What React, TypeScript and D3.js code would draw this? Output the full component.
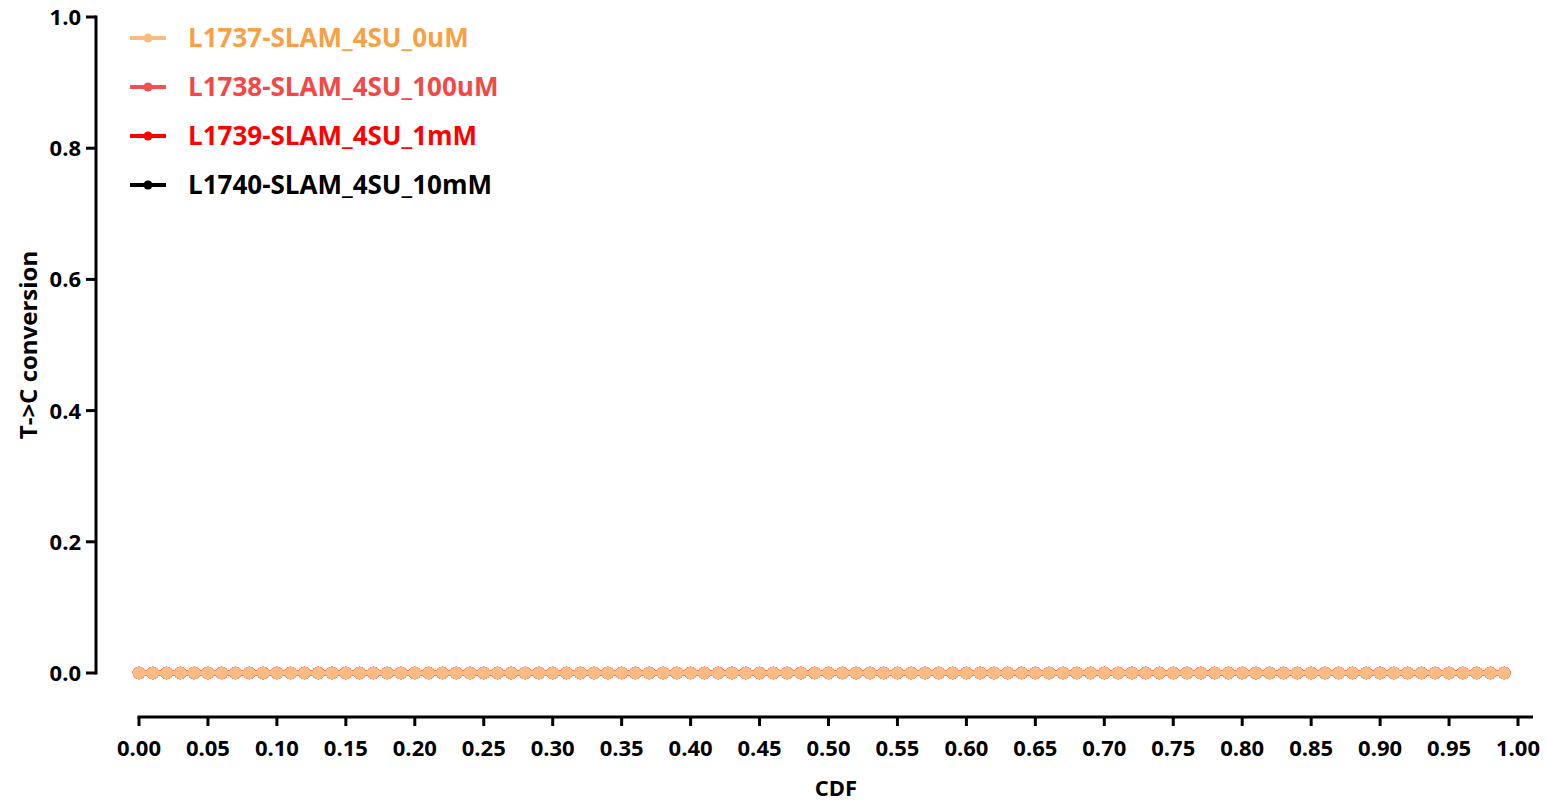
import React from "react";
import * as d3 from "d3";

const xTicks: number[] = [0, 0.05, 0.1, 0.15, 0.2, 0.25, 0.3, 0.35, 0.4, 0.45, 0.5, 0.55, 0.6, 0.65, 0.7, 0.75, 0.8, 0.85, 0.9, 0.95, 1.0];
const yTicks: number[] = [0, 0.2, 0.4, 0.6, 0.8, 1.0];
const cdfValues: number[] = [
  0.0, 0.01, 0.02, 0.03, 0.04, 0.05, 0.06, 0.07, 0.08, 0.09,
  0.1, 0.11, 0.12, 0.13, 0.14, 0.15, 0.16, 0.17, 0.18, 0.19,
  0.2, 0.21, 0.22, 0.23, 0.24, 0.25, 0.26, 0.27, 0.28, 0.29,
  0.3, 0.31, 0.32, 0.33, 0.34, 0.35, 0.36, 0.37, 0.38, 0.39,
  0.4, 0.41, 0.42, 0.43, 0.44, 0.45, 0.46, 0.47, 0.48, 0.49,
  0.5, 0.51, 0.52, 0.53, 0.54, 0.55, 0.56, 0.57, 0.58, 0.59,
  0.6, 0.61, 0.62, 0.63, 0.64, 0.65, 0.66, 0.67, 0.68, 0.69,
  0.7, 0.71, 0.72, 0.73, 0.74, 0.75, 0.76, 0.77, 0.78, 0.79,
  0.8, 0.81, 0.82, 0.83, 0.84, 0.85, 0.86, 0.87, 0.88, 0.89,
  0.9, 0.91, 0.92, 0.93, 0.94, 0.95, 0.96, 0.97, 0.98, 0.99,
];
const seriesNames: string[] = [
  "L1737-SLAM_4SU_0uM",
  "L1738-SLAM_4SU_100uM",
  "L1739-SLAM_4SU_1mM",
  "L1740-SLAM_4SU_10mM",
];
const seriesLineColors: string[] = ["#fdbb84", "#f54f4f", "#ff0000", "#000000"];
const seriesTextColors: string[] = ["#f7a045", "#f24848", "#ff0000", "#000000"];
// T->C conversion values (all zero in the reference); series drawn in reverse so 0uM is on top
const conv0uM: number[] = cdfValues.map(() => 0);
const conv100uM: number[] = cdfValues.map(() => 0);
const conv1mM: number[] = cdfValues.map(() => 0);
const conv10mM: number[] = cdfValues.map(() => 0);
const seriesValues: number[][] = [conv0uM, conv100uM, conv1mM, conv10mM];

const FONT = "'Open Sans', 'DejaVu Sans', sans-serif";

export default function App() {
  const W = 1547, H = 804;
  const x = d3.scaleLinear().domain([0, 1]).range([139, 1518]);
  const y = d3.scaleLinear().domain([0, 1]).range([673, 17]);
  const yAxisX = 96;
  const xAxisY = 717;
  const line = d3.line<number>().x((_, i) => x(cdfValues[i])).y((v) => y(v));

  return (
    <svg width={W} height={H} style={{ position: "absolute", left: 0, top: 0, background: "#fff" }} fontFamily={FONT}>
      {/* Y axis */}
      <line x1={yAxisX} x2={yAxisX} y1={y(1) - 1.5} y2={y(0) + 1.5} stroke="#000" strokeWidth={3} />
      {yTicks.map((t) => (
        <g key={t}>
          <line x1={yAxisX - 10} x2={yAxisX} y1={y(t)} y2={y(t)} stroke="#000" strokeWidth={3} />
          <text x={yAxisX - 15} y={y(t)} dy="0.36em" textAnchor="end" fontSize={22} fontWeight={700}>
            {t.toFixed(1)}
          </text>
        </g>
      ))}
      <text transform={`translate(28,${(y(0) + y(1)) / 2}) rotate(-90)`} dy="0.36em" textAnchor="middle" fontSize={24} fontWeight={700}>
        T-&gt;C conversion
      </text>

      {/* X axis */}
      <line x1={x(0) - 1.5} x2={1533} y1={xAxisY} y2={xAxisY} stroke="#000" strokeWidth={3} />
      {xTicks.map((t) => (
        <g key={t}>
          <line x1={x(t)} x2={x(t)} y1={xAxisY} y2={xAxisY + 9} stroke="#000" strokeWidth={3} />
          <text x={x(t)} y={748} dy="0.36em" textAnchor="middle" fontSize={22} fontWeight={700}>
            {t.toFixed(2)}
          </text>
        </g>
      ))}
      <text x={836} y={796} textAnchor="middle" fontSize={22} fontWeight={700}>
        CDF
      </text>

      {/* Series (draw last-first so first is on top) */}
      {seriesValues.map((vals, i) => ({ vals, i })).reverse().map(({ vals, i }) => (
        <g key={seriesNames[i]}>
          <path d={line(vals) || ""} fill="none" stroke={seriesLineColors[i]} strokeWidth={5} />
          {vals.map((v, j) => (
            <circle key={j} cx={x(cdfValues[j])} cy={y(v)} r={5.5} fill={seriesLineColors[i]} stroke={seriesLineColors[i]} strokeWidth={1.5} />
          ))}
        </g>
      ))}

      {/* Legend */}
      {seriesNames.map((name, i) => {
        const ly = 38 + i * 49;
        return (
          <g key={name}>
            <line x1={130} x2={166} y1={ly} y2={ly} stroke={seriesLineColors[i]} strokeWidth={4} />
            <circle cx={148} cy={ly} r={4.5} fill={seriesLineColors[i]} />
            <text x={188} y={ly} dy="0.36em" fontSize={26} fontWeight={700} fill={seriesTextColors[i]}>
              {name}
            </text>
          </g>
        );
      })}
    </svg>
  );
}
